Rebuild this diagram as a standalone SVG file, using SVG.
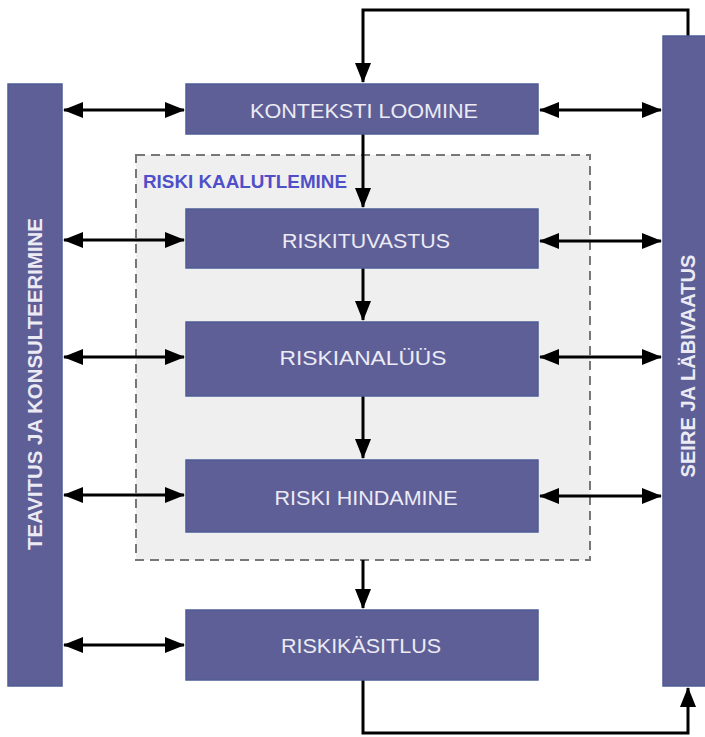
<svg xmlns="http://www.w3.org/2000/svg" width="705" height="737" viewBox="0 0 705 737">
<defs>
<style>
.box{fill:#5f5f98;stroke:#4d5c95;stroke-width:1.5}
.t{font-family:"Liberation Sans",Arial,sans-serif;font-size:21px;fill:#ecebf4;text-anchor:middle;dominant-baseline:central}
.tb{font-family:"Liberation Sans",Arial,sans-serif;font-size:20px;font-weight:bold;fill:#ecebf4;text-anchor:middle;dominant-baseline:central}
.c{stroke:#000;stroke-width:3;fill:none}
</style>
<marker id="ah" viewBox="0 0 20 16" refX="19" refY="8" markerWidth="20" markerHeight="16" markerUnits="userSpaceOnUse" orient="auto-start-reverse">
<path d="M0,0 L20,8 L0,16 Z" fill="#000"/>
</marker>
</defs>
<rect width="705" height="737" fill="#fff"/>
<g id="kaalutlemine">
<rect x="136" y="155" width="454" height="405" fill="#efefef" stroke="#777" stroke-width="2" stroke-dasharray="9,6"/>
<text x="143" y="181" font-family="Liberation Sans,Arial,sans-serif" font-size="19" font-weight="bold" fill="#4f4fc8" textLength="204" lengthAdjust="spacingAndGlyphs" dominant-baseline="central">RISKI KAALUTLEMINE</text>
</g>
<g id="connectors">
<path class="c" d="M688,36 V10 H363 V82" marker-end="url(#ah)"/>
<path class="c" d="M363,134 V207" marker-end="url(#ah)"/>
<path class="c" d="M363,268 V320" marker-end="url(#ah)"/>
<path class="c" d="M363,396 V458" marker-end="url(#ah)"/>
<path class="c" d="M363,560 V608" marker-end="url(#ah)"/>
<path class="c" d="M363,680 V733 H688 V688" marker-end="url(#ah)"/>
<path class="c" d="M64,110 H184" marker-start="url(#ah)" marker-end="url(#ah)"/>
<path class="c" d="M64,240 H184" marker-start="url(#ah)" marker-end="url(#ah)"/>
<path class="c" d="M64,357 H184" marker-start="url(#ah)" marker-end="url(#ah)"/>
<path class="c" d="M64,495 H184" marker-start="url(#ah)" marker-end="url(#ah)"/>
<path class="c" d="M64,645 H184" marker-start="url(#ah)" marker-end="url(#ah)"/>
<path class="c" d="M540,110 H661" marker-start="url(#ah)" marker-end="url(#ah)"/>
<path class="c" d="M540,241 H661" marker-start="url(#ah)" marker-end="url(#ah)"/>
<path class="c" d="M540,357 H661" marker-start="url(#ah)" marker-end="url(#ah)"/>
<path class="c" d="M540,496 H661" marker-start="url(#ah)" marker-end="url(#ah)"/>
</g>
<g id="teavitus">
<rect class="box" x="8" y="84" width="54" height="602"/>
<text class="tb" transform="translate(35,384) rotate(-90)" textLength="332" lengthAdjust="spacingAndGlyphs">TEAVITUS JA KONSULTEERIMINE</text>
</g>
<g id="seire">
<rect class="box" x="663" y="36" width="50" height="650"/>
<text class="tb" transform="translate(688,366) rotate(-90)" textLength="223" lengthAdjust="spacingAndGlyphs">SEIRE JA LÄBIVAATUS</text>
</g>
<g id="konteksti">
<rect class="box" x="186" y="84" width="352" height="50"/>
<text class="t" x="364" y="110" textLength="228" lengthAdjust="spacingAndGlyphs">KONTEKSTI LOOMINE</text>
</g>
<g id="riskituvastus">
<rect class="box" x="186" y="209" width="352" height="59"/>
<text class="t" x="366" y="240" textLength="168" lengthAdjust="spacingAndGlyphs">RISKITUVASTUS</text>
</g>
<g id="riskianalyys">
<rect class="box" x="186" y="322" width="352" height="74"/>
<text class="t" x="363" y="357" textLength="167" lengthAdjust="spacingAndGlyphs">RISKIANALÜÜS</text>
</g>
<g id="riskihindamine">
<rect class="box" x="186" y="460" width="352" height="72"/>
<text class="t" x="366" y="497" textLength="183" lengthAdjust="spacingAndGlyphs">RISKI HINDAMINE</text>
</g>
<g id="riskikasitlus">
<rect class="box" x="186" y="610" width="352" height="70"/>
<text class="t" x="361" y="645" textLength="160" lengthAdjust="spacingAndGlyphs">RISKIKÄSITLUS</text>
</g>
</svg>
